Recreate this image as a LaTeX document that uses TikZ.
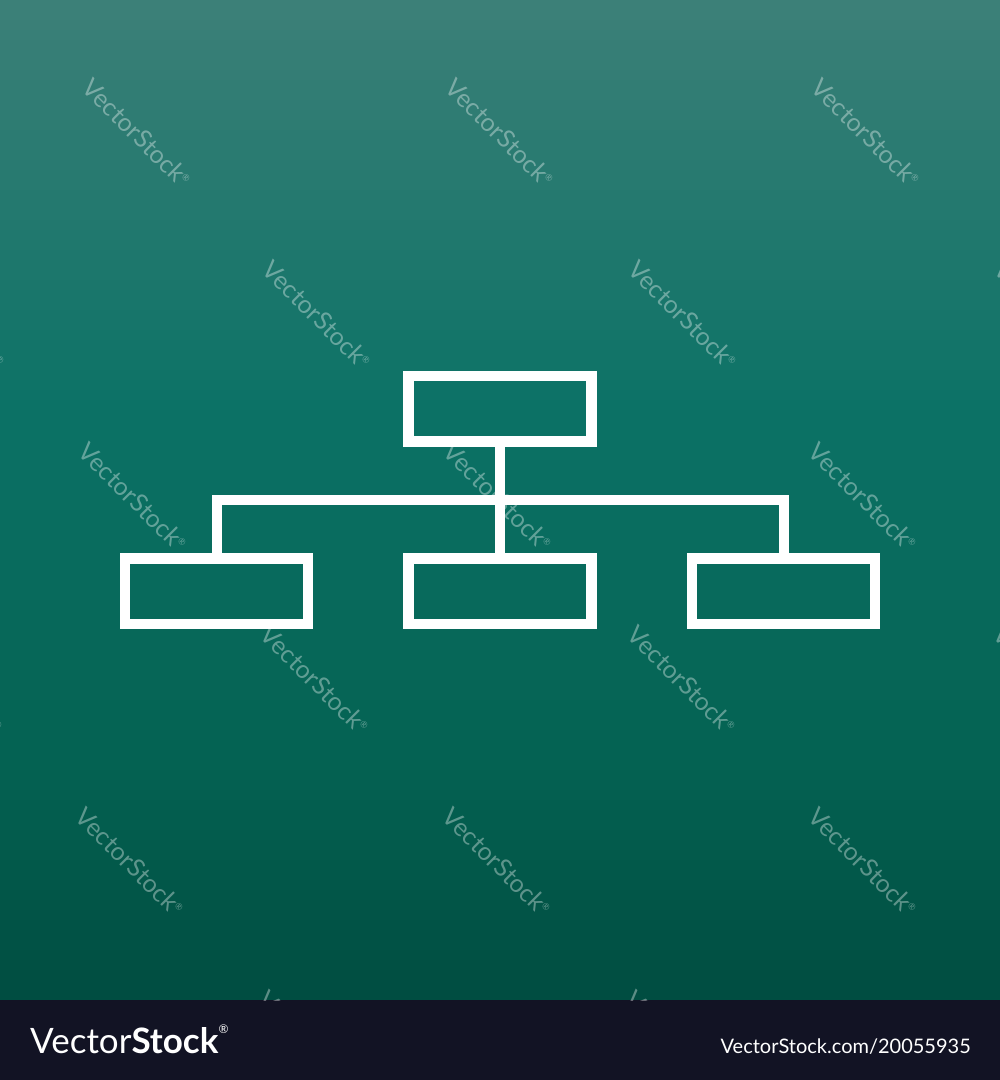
\documentclass[tikz,border=0pt]{standalone}
\usepackage{fontspec}
\setmainfont{Lato}
\definecolor{bgA}{HTML}{3C8078}
\definecolor{bgB}{HTML}{0C7266}
\definecolor{bgC}{HTML}{046252}
\definecolor{bgD}{HTML}{004C40}
\definecolor{barcol}{HTML}{121324}
\begin{document}
\begin{tikzpicture}[x=1pt,y=-1pt,
  box/.style={draw=white,line width=10.5pt,minimum width=183pt,minimum height=65.5pt,inner sep=0pt,outer sep=0pt},
  link/.style={draw=white,line width=10pt,line join=miter},
  wm/.style={text=white,opacity=0.36,inner sep=0pt,font=\fontsize{25}{25}\selectfont,rotate=-45}]
\useasboundingbox (0,0) rectangle (1000,1080);
% background gradient in strips
\foreach \i in {0,...,39}{
  \pgfmathsetmacro{\p}{100-\i*2.5}
  \fill[bgA!\p!bgB] (0,\i*10) rectangle (1000,\i*10+10.6);}
\foreach \i in {0,...,35}{
  \pgfmathsetmacro{\p}{100-\i*100/36}
  \fill[bgB!\p!bgC] (0,400+\i*10) rectangle (1000,400+\i*10+10.6);}
\foreach \i in {0,...,23}{
  \pgfmathsetmacro{\p}{100-\i*100/24}
  \fill[bgC!\p!bgD] (0,760+\i*10) rectangle (1000,760+\i*10+10.6);}
\fill[barcol] (0,1000) rectangle (1000,1080);
% watermarks
\begin{scope}
\clip (0,0) rectangle (1000,1000);
\foreach \x/\y in {320/-50,686/-50,
  137/133,500/133,866/133,
  -49/315,317/315,683/315,1049/315,
  133/497,498/497,863/497,
  -51/680,315/680,682/680,1048/680,
  130/862,497/862,863/862,
  313/1045,680/1045}
  \node[wm] at (\x,\y) {VectorStock\raisebox{0.7ex}{\fontsize{9}{9}\selectfont ®}};
\end{scope}
% diagram
\node[box] (top) at (500,408.75) {};
\node[box] (left) at (216.7,591) {};
\node[box] (mid) at (500,591) {};
\node[box] (right) at (783.5,591) {};
\coordinate (j) at (500,500);
\draw[link] (top.south) -- (mid.north);
\draw[link] (left.north) -- (left.north |- j) -- (right.north |- j) -- (right.north);
% bottom bar texts
\node[anchor=base west,text=white,inner sep=0pt,font=\fontsize{35}{35}\selectfont] (brand) at (30,1053) {Vector\textbf{Stock}\raisebox{1.1ex}{\fontsize{12}{12}\selectfont ®}};
\node[anchor=base east,text=white,inner sep=0pt,font=\fontsize{20}{20}\selectfont] (url) at (971,1053) {VectorStock.com/20055935};
\end{tikzpicture}
\end{document}
